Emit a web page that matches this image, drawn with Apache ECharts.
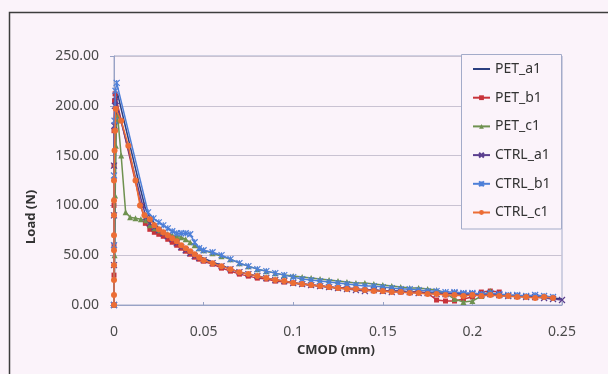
<!DOCTYPE html>
<html><head><meta charset="utf-8">
<script src="https://cdn.jsdelivr.net/npm/echarts@6/dist/echarts.min.js"></script>
<style>html,body{margin:0;padding:0;background:#fbf3fa}#c{width:608px;height:374px}</style>
</head><body><div id="c"></div>
<script>
// CMOD (mm) and Load (N) per specimen
const seriesNames = ['PET_a1','PET_b1','PET_c1','CTRL_a1','CTRL_b1','CTRL_c1'];
const xTicks = [0, 0.05, 0.1, 0.15, 0.2, 0.25];
const yTicks = [0, 50, 100, 150, 200, 250];

const petA1X = [0,0.0003,0.0006,0.0009,0.0012,0.0016,0.002,0.006,0.01,0.014,0.0175,0.02,0.025,0.03,0.035,0.04,0.045,0.05,0.055,0.06,0.065,0.07,0.075,0.08,0.085,0.09,0.095,0.1,0.105,0.11,0.115,0.12,0.125,0.13,0.135,0.14,0.145,0.15,0.155,0.16,0.165,0.17,0.175,0.18,0.185,0.19,0.195,0.2,0.205,0.21,0.215,0.22,0.225,0.23,0.235,0.24,0.245,0.25];
const petA1Y = [0,40,95,150,190,208,212,182,152,122,97,88,77,71,64,57,51,47,43,40,36,33,31,29,27,25,24,22,21,20,19,18,17,17,16,15,15,14,14,14,13,13,12,12,12,11,11,11,10,10,10,9,9,9,8,8,7,6];

const petB1X = [0,0,0,0,0,0,0.0003,0.0006,0.015,0.0175,0.02,0.0225,0.025,0.0275,0.03,0.0325,0.035,0.0375,0.04,0.0425,0.045,0.0475,0.05,0.055,0.06,0.065,0.07,0.075,0.08,0.085,0.09,0.095,0.1,0.105,0.11,0.115,0.12,0.125,0.13,0.135,0.14,0.145,0.15,0.155,0.16,0.165,0.17,0.175,0.18,0.185,0.19,0.195,0.2,0.205,0.21,0.215];
const petB1Y = [0,30,60,100,140,175,205,212,100,82,76,73,71,69,66,63,60,57,54,51,48,46,44,41,37,34,31,29,27,26,24,23,22,21,20,19,18,17,17,16,15,15,14,14,13,13,13,12,5,4,4,6,8,13,14,13];

const petC1X = [0,0.0003,0.0006,0.001,0.0015,0.002,0.004,0.0065,0.009,0.012,0.015,0.018,0.02,0.0225,0.025,0.0275,0.03,0.0325,0.035,0.0375,0.04,0.0425,0.045,0.0475,0.05,0.055,0.06,0.065,0.07,0.075,0.08,0.085,0.09,0.095,0.1,0.105,0.11,0.115,0.12,0.125,0.13,0.135,0.14,0.145,0.15,0.155,0.16,0.165,0.17,0.175,0.18,0.185,0.19,0.195,0.2,0.205,0.21];
const petC1Y = [0,50,110,160,185,190,150,93,88,87,86,85,80,77,75,73,71,70,69,68,66,63,60,57,55,52,49,46,42,39,36,34,32,30,29,28,27,26,25,24,23,22,22,21,20,19,18,17,17,16,15,12,6,3,4,9,14];

const ctrlA1X = [0,0,0,0,0.0002,0.0005,0.001,0.016,0.018,0.02,0.0225,0.025,0.0275,0.03,0.0325,0.035,0.0375,0.04,0.0425,0.045,0.0475,0.05,0.055,0.06,0.065,0.07,0.075,0.08,0.085,0.09,0.095,0.1,0.105,0.11,0.115,0.12,0.125,0.13,0.135,0.14,0.145,0.15,0.155,0.16,0.165,0.17,0.175,0.18,0.185,0.19,0.195,0.2,0.205,0.21,0.215,0.22,0.225,0.23,0.235,0.24,0.245,0.25];
const ctrlA1Y = [0,40,90,140,180,200,205,100,88,82,78,75,72,69,66,62,58,55,52,49,47,45,42,39,36,33,31,29,27,25,24,22,21,20,19,18,17,16,15,14,15,14,13,14,13,12,12,11,11,12,11,11,10,11,10,9,9,8,8,7,6,5];

const ctrlB1X = [0,0,0,0.0003,0.0008,0.0015,0.019,0.022,0.025,0.0275,0.03,0.0325,0.035,0.0375,0.04,0.0425,0.045,0.0475,0.05,0.055,0.06,0.065,0.07,0.075,0.08,0.085,0.09,0.095,0.1,0.105,0.11,0.115,0.12,0.125,0.13,0.135,0.14,0.145,0.15,0.155,0.16,0.165,0.17,0.175,0.18,0.185,0.19,0.195,0.2,0.205,0.21,0.215,0.22,0.225,0.23,0.235,0.24,0.245];
const ctrlB1Y = [0,60,130,185,215,223,93,87,83,80,77,74,72,72,72,71,63,57,55,53,50,46,42,39,36,34,32,30,28,26,25,24,23,22,21,20,19,19,18,17,16,16,15,14,14,13,13,12,12,11,12,11,10,10,9,10,9,8];

const ctrlC1X = [0,0,0,0,0,0,0,0,0,0.0003,0.0006,0.001,0.004,0.008,0.012,0.0145,0.017,0.02,0.0225,0.025,0.0275,0.03,0.0325,0.035,0.0375,0.04,0.0425,0.045,0.0475,0.05,0.055,0.06,0.065,0.07,0.075,0.08,0.085,0.09,0.095,0.1,0.105,0.11,0.115,0.12,0.125,0.13,0.135,0.14,0.145,0.15,0.155,0.16,0.165,0.17,0.175,0.18,0.185,0.19,0.195,0.2,0.205,0.21,0.215,0.22,0.225,0.23,0.235,0.24,0.245];
const ctrlC1Y = [0,10,25,40,55,70,90,105,125,155,175,197,185,160,125,100,90,86,80,76,73,70,67,64,60,57,54,51,48,45,42,39,36,33,31,29,27,25,24,22,21,20,19,18,17,16,16,15,14,14,13,13,12,12,11,11,10,10,9,10,9,10,9,9,8,8,7,8,7];

const colors = ['#2b3f80','#c8333a','#6f9150','#5b3f8f','#4d7fd8','#ec6d35'];
const X_PATH = 'path://M0,0L10,10M10,0L0,10';
const STAR_PATH = 'path://M0,0L10,10M10,0L0,10M5,0L5,10';
const symbols = ['circle','rect','triangle',X_PATH,STAR_PATH,'circle'];
const symbolSizes = [4,5,6,6,6,6];
const xs = [petA1X, petB1X, petC1X, ctrlA1X, ctrlB1X, ctrlC1X];
const ys = [petA1Y, petB1Y, petC1Y, ctrlA1Y, ctrlB1Y, ctrlC1Y];

const font = 'Noto Sans';
const chart = echarts.init(document.getElementById('c'), null, {renderer:'canvas'});
const series = seriesNames.map((n, i) => ({
  name: n, type: 'line',
  data: xs[i].map((x, k) => [x, ys[i][k]]),
  symbol: symbols[i], symbolSize: symbolSizes[i], showSymbol: i !== 0,
  clip: false,
  lineStyle: {color: colors[i], width: 1.5},
  itemStyle: {color: colors[i], borderColor: colors[i], borderWidth: (i===3||i===4) ? 1.2 : 0},
  emphasis: {disabled: true},
  z: 2 + i
}));

const legendData = seriesNames.map((n, i) => i === 0 ? {name: n, itemStyle: {opacity: 0}} : {name: n});

chart.setOption({
  animation: false,
  backgroundColor: '#fbf3fa',
  grid: {left: 114, right: 46, top: 56, bottom: 69, show: true, borderColor: '#a3abc9', borderWidth: 1, backgroundColor: 'transparent'},
  xAxis: {
    type: 'value', min: xTicks[0], max: xTicks[xTicks.length-1], interval: 0.05,
    axisLine: {show: true, lineStyle: {color: '#98a2c6'}},
    axisTick: {show: true, inside: true, length: 3, lineStyle: {color: '#98a2c6'}},
    splitLine: {show: false},
    axisLabel: {color: '#4a4a4a', fontFamily: font, fontSize: 14, margin: 20, formatter: v => String(+v.toFixed(2))}
  },
  yAxis: {
    type: 'value', min: yTicks[0], max: yTicks[yTicks.length-1], interval: 50,
    axisLine: {show: true, lineStyle: {color: '#98a2c6'}},
    axisTick: {show: true, length: 4, lineStyle: {color: '#98a2c6'}},
    splitLine: {show: true, lineStyle: {color: '#c9c2d2', width: 1}},
    axisLabel: {color: '#4a4a4a', fontFamily: font, fontSize: 14, margin: 15, formatter: v => v.toFixed(2)}
  },
  legend: {
    orient: 'vertical', left: 467, top: 57, itemWidth: 17, itemHeight: 6, itemGap: 14.7,
    textStyle: {fontFamily: font, fontSize: 14, color: '#333'},
    data: legendData, selectedMode: false
  },
  graphic: [
    {type: 'rect', shape: {x: 9.5, y: 12.5, width: 700, height: 500}, style: {fill: 'none', stroke: '#3d3d3d', lineWidth: 1.5}, z: 100, silent: true},
    {type: 'rect', shape: {x: 461.5, y: 54.5, width: 100, height: 174.5}, style: {fill: '#fbf3fa', stroke: '#a3abc9', lineWidth: 1}, z: 3, silent: true},
    {type: 'text', left: 297, top: 344, style: {text: 'CMOD (mm)', font: 'bold 13px "Noto Sans"', fill: '#333'}, z: 100},
    {type: 'text', x: 25, y: 244, rotation: Math.PI/2, style: {text: 'Load (N)', font: 'bold 13px "Noto Sans"', fill: '#333'}, z: 100}
  ],
  series: series
});
</script></body></html>
